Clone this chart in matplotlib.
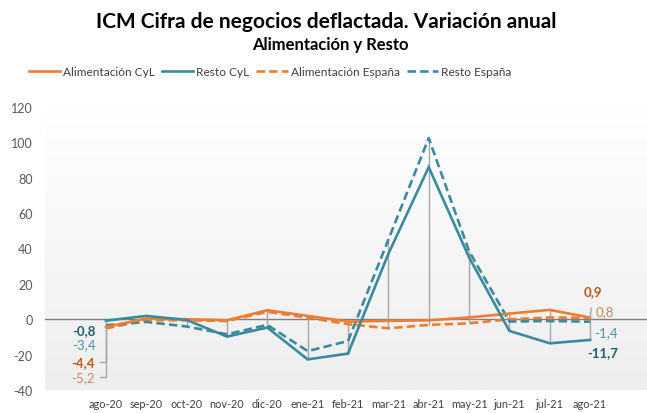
import numpy as np
import matplotlib
matplotlib.use("Agg")
import matplotlib.pyplot as plt
from matplotlib.lines import Line2D

plt.rcParams['font.family'] = ['Lato', 'DejaVu Sans']

months = ["ago-20", "sep-20", "oct-20", "nov-20", "dic-20", "ene-21", "feb-21",
          "mar-21", "abr-21", "may-21", "jun-21", "jul-21", "ago-21"]
alim_cyl = [-4.4, 0.4, 0.0, -0.6, 5.1, 1.9, -1.3, -0.9, -0.6, 1.0, 3.2, 5.3, 0.9]
resto_cyl = [-0.8, 1.9, -0.4, -9.8, -4.7, -22.7, -19.4, 37.0, 86.0, 35.0, -6.6, -13.6, -11.7]
alim_esp = [-5.2, -0.5, -0.6, -1.0, 4.2, 0.9, -2.8, -5.1, -3.2, -2.3, 0.0, 1.0, 0.8]
resto_esp = [-3.4, -1.5, -4.1, -8.5, -3.2, -18.0, -12.3, 45.0, 102.4, 38.5, -1.3, -1.0, -1.4]
yticks = [-40, -20, 0, 20, 40, 60, 80, 100, 120]

ORANGE = "#ED7D31"
TEAL = "#3A8B9E"
ORANGE_DARK = "#C0560F"
ORANGE_LIGHT = "#C98A5C"
TEAL_DARK = "#215E70"
TEAL_LIGHT = "#4E93A5"
GRAY = "#A6A6A6"

fig = plt.figure(figsize=(6.47, 4.14), dpi=100)
ax = fig.add_axes([45/647, 1-391/414, 1-45/647, (391-108)/414])

x = np.arange(len(months))
ax.set_xlim(-1.51, 12 + 1.41)
ax.set_ylim(-40, 120)

# gradient background
grad = np.linspace(1, 0, 256).reshape(-1, 1)
c_top = np.array([1.0, 1.0, 1.0])
c_bot = np.array([0xEE, 0xEE, 0xEE]) / 255
img = c_bot + (c_top - c_bot) * grad[..., None].repeat(1, axis=1)
ax.imshow(img, extent=[0, 1, 0, 1], transform=ax.transAxes, aspect='auto', zorder=0)

# zero line
ax.axhline(0, color="#7F7F7F", lw=1.0, zorder=1)

# high-low lines
all_s = np.array([alim_cyl, resto_cyl, alim_esp, resto_esp])
ax.vlines(x, all_s.min(axis=0), all_s.max(axis=0), color=GRAY, lw=1.0, zorder=2)

lw = 1.9
dash = (0, (3.2, 1.6))
ax.plot(x, alim_cyl, color=ORANGE, lw=lw, zorder=4, solid_joinstyle='miter')
ax.plot(x, resto_cyl, color=TEAL, lw=lw, zorder=4, solid_joinstyle='miter')
ax.plot(x, alim_esp, color=ORANGE, lw=lw, ls=dash, zorder=3)
ax.plot(x, resto_esp, color=TEAL, lw=lw, ls=dash, zorder=3)

for s in ax.spines.values():
    s.set_visible(False)
ax.set_yticks(yticks)
ax.set_yticklabels([str(v) for v in yticks])
ax.tick_params(axis='y', length=0, pad=9, labelsize=9, labelcolor="#595959")
ax.set_xticks(x)
ax.set_xticklabels(months)
ax.tick_params(axis='x', length=0, pad=6, labelsize=7.8, labelcolor="#404040")

def fmt(v):
    return ("%.1f" % v).replace(".", ",")

fs = 9.5
# labels at start
i = 0
ax.annotate(fmt(resto_cyl[i]), (x[i], resto_cyl[i]), xytext=(-10, -9), textcoords='offset pixels',
            ha='right', va='center', fontsize=fs, fontweight='bold', color=TEAL_DARK, zorder=6)
ax.annotate(fmt(resto_esp[i]), (x[i], resto_esp[i]), xytext=(-10, -19), textcoords='offset pixels',
            ha='right', va='center', fontsize=fs, color=TEAL_LIGHT, zorder=6)
ax.annotate(fmt(alim_cyl[i]), (x[i], alim_cyl[i]), xytext=(-11, -35), textcoords='offset pixels',
            ha='right', va='center', fontsize=fs, fontweight='bold', color=ORANGE_DARK, zorder=6,
            arrowprops=dict(arrowstyle='-', color=GRAY, lw=1.0, shrinkA=2, shrinkB=0,
                            connectionstyle='angle,angleA=0,angleB=90,rad=0'))
ax.annotate(fmt(alim_esp[i]), (x[i], alim_esp[i]), xytext=(-11, -49), textcoords='offset pixels',
            ha='right', va='center', fontsize=fs, color=ORANGE_LIGHT, zorder=6,
            arrowprops=dict(arrowstyle='-', color=GRAY, lw=1.0, shrinkA=2, shrinkB=0,
                            connectionstyle='angle,angleA=0,angleB=90,rad=0'))
# labels at end
i = 12
ax.annotate(fmt(alim_cyl[i]), (x[i], alim_cyl[i]), xytext=(3, 27), textcoords='offset pixels',
            ha='center', va='center', fontsize=fs, fontweight='bold', color=ORANGE_DARK, zorder=6,
            arrowprops=dict(arrowstyle='-', color=GRAY, lw=1.0, shrinkA=6, shrinkB=0))
ax.annotate(fmt(alim_esp[i]), (x[i], alim_esp[i]), xytext=(6, 7), textcoords='offset pixels',
            ha='left', va='center', fontsize=fs, color=ORANGE_LIGHT, zorder=6)
ax.annotate(fmt(resto_esp[i]), (x[i], resto_esp[i]), xytext=(4, -10), textcoords='offset pixels',
            ha='left', va='center', fontsize=fs, color=TEAL_LIGHT, zorder=6)
ax.annotate(fmt(resto_cyl[i]), (x[i], resto_cyl[i]), xytext=(13, -12), textcoords='offset pixels',
            ha='center', va='center', fontsize=fs, fontweight='bold', color=TEAL_DARK, zorder=6)

fig.text(326/647, 1-22/414, "ICM Cifra de negocios deflactada. Variación anual",
         ha='center', va='center', fontsize=15, fontweight='bold', color='black')
fig.text(330/647, 1-45/414, "Alimentación y Resto",
         ha='center', va='center', fontsize=12, fontweight='bold', color='black')

handles = [Line2D([], [], color=ORANGE, lw=lw),
           Line2D([], [], color=TEAL, lw=lw),
           Line2D([], [], color=ORANGE, lw=lw, ls=dash),
           Line2D([], [], color=TEAL, lw=lw, ls=dash)]
labels = ["Alimentación CyL", "Resto CyL", "Alimentación España", "Resto España"]
fig.legend(handles, labels, loc='center', bbox_to_anchor=(270/647, 1-73/414), ncol=4,
           frameon=False, fontsize=8.6, handlelength=2.6, handletextpad=0.25, columnspacing=0.6,
           labelcolor="#404040")

fig.savefig("out.png", dpi=100)
